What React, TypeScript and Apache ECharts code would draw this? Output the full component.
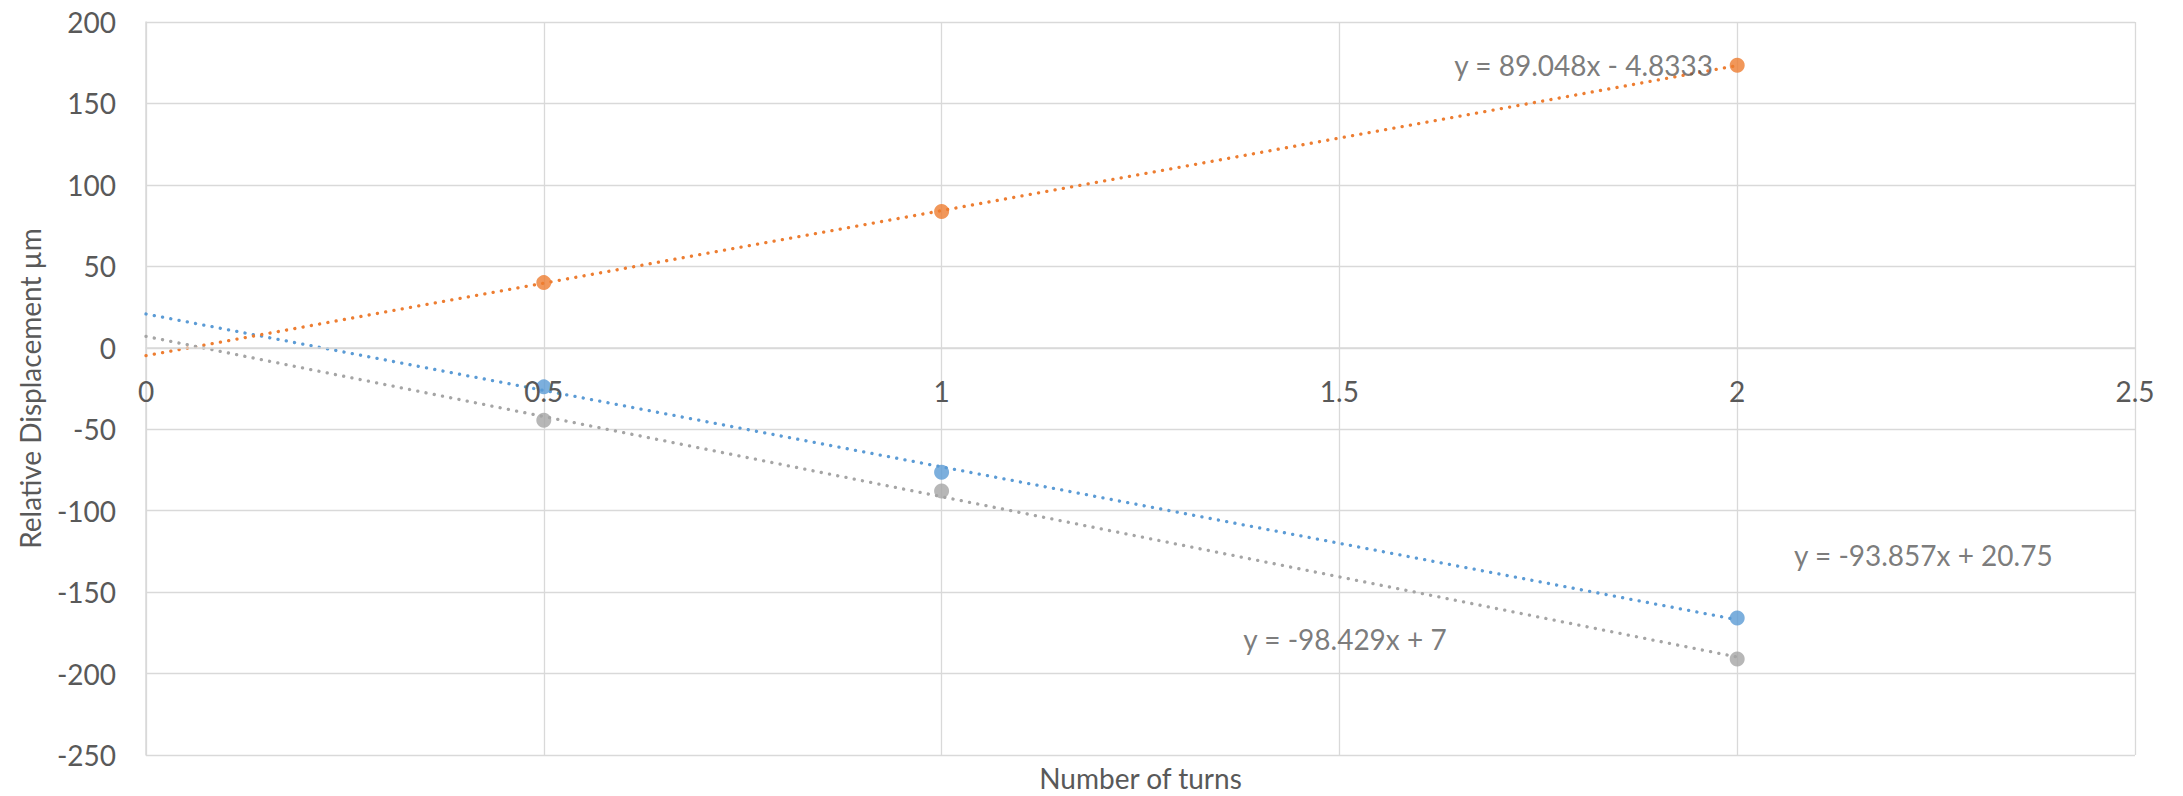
import React, { useEffect, useRef } from "react";
import * as echarts from "echarts";

const xValues = [0.5, 1, 2];
const blueValues = [-24, -76.4, -165.9];
const orangeValues = [40, 83.6, 173.4];
const grayValues = [-44.5, -88, -191];

const trendX = [0, 2];
const blueTrend = [20.75, -166.96];
const orangeTrend = [-4.83, 173.26];
const grayTrend = [7, -189.86];

const equationTexts = ["y = 89.048x - 4.8333", "y = -93.857x + 20.75", "y = -98.429x + 7"];
const equationX = [1.807, 2.234, 1.507];
const equationY = [173.5, -127, -179];

const Y_MIN = -250;
const Y_MAX = 200;

const BLUE = "#5B9BD5";
const ORANGE = "#ED7D31";
const GRAY = "#A5A5A5";
const TEXT = "#595959";
const GRID = "#D9D9D9";
const FONT = "Lato, 'Open Sans', sans-serif";

const W = 2183;
const H = 796;
const GRID_TOP = 22;
const GRID_BOTTOM = 41;

const pairs = (xs: number[], ys: number[]) => xs.map((x, i) => [x, ys[i]]);

export default function App() {
  const ref = useRef<HTMLDivElement>(null);
  useEffect(() => {
    document.body.style.margin = "0";
    const chart = echarts.init(ref.current!, null, { renderer: "svg" });
    const gridHeight = H - GRID_TOP - GRID_BOTTOM;
    const zeroOffset = -(gridHeight * (0 - Y_MIN)) / (Y_MAX - Y_MIN);
    const trendStyle = (color: string) => ({
      color,
      width: 3.3,
      type: [0.1, 8.3],
      cap: "round",
    });
    const trend = (name: string, ys: number[], color: string) => ({
      name,
      type: "line",
      data: pairs(trendX, ys),
      showSymbol: false,
      symbol: "none",
      lineStyle: trendStyle(color),
      silent: true,
      z: 2,
    });
    const pts = (name: string, ys: number[], color: string) => ({
      name,
      type: "scatter",
      data: pairs(xValues, ys),
      symbol: "circle",
      symbolSize: 15,
      itemStyle: { color },
      z: 3,
    });
    chart.setOption({
      animation: false,
      backgroundColor: "#ffffff",
      textStyle: { fontFamily: FONT },
      grid: { left: 146, right: 48, top: GRID_TOP, bottom: GRID_BOTTOM },
      xAxis: [
        {
          type: "value",
          min: 0,
          max: 2.5,
          interval: 0.5,
          axisLine: { show: false },
          axisTick: { show: false },
          axisLabel: { show: false },
          splitLine: { show: true, lineStyle: { color: GRID, width: 1.3 } },
        },
        {
          type: "value",
          position: "bottom",
          offset: zeroOffset,
          z: 5,
          min: 0,
          max: 2.5,
          interval: 0.5,
          axisLine: { show: true, onZero: false, lineStyle: { color: GRID, width: 1.5 } },
          axisTick: { show: false },
          axisLabel: { color: TEXT, fontSize: 28, fontFamily: FONT, margin: 29 },
          splitLine: { show: false },
        },
      ],
      yAxis: {
        type: "value",
        min: Y_MIN,
        max: Y_MAX,
        interval: 50,
        name: "Relative Displacement µm",
        nameLocation: "middle",
        nameGap: 102,
        nameTextStyle: { color: TEXT, fontSize: 28, fontFamily: FONT },
        axisLine: { show: true, onZero: false, lineStyle: { color: GRID, width: 1.5 } },
        axisTick: { show: false },
        axisLabel: { color: TEXT, fontSize: 28, fontFamily: FONT, margin: 30 },
        splitLine: { show: true, lineStyle: { color: GRID, width: 1.3 } },
      },
      graphic: [
        {
          type: "text",
          x: 1140.5,
          y: 778,
          style: {
            text: "Number of turns",
            fill: TEXT,
            font: `28px ${FONT}`,
            textAlign: "center",
            textVerticalAlign: "middle",
          },
        },
      ],
      series: [
        trend("Blue trend", blueTrend, BLUE),
        trend("Orange trend", orangeTrend, ORANGE),
        trend("Gray trend", grayTrend, GRAY),
        pts("Blue", blueValues, BLUE),
        pts("Orange", orangeValues, ORANGE),
        pts("Gray", grayValues, GRAY),
        {
          name: "Equations",
          type: "scatter",
          symbolSize: 0,
          silent: true,
          z: 4,
          data: equationTexts.map((t, i) => ({ value: [equationX[i], equationY[i]], name: t })),
          label: {
            show: true,
            position: "inside",
            formatter: (p: any) => p.name,
            color: TEXT,
            fontSize: 28,
            fontFamily: FONT,
          },
        },
      ],
    });
    return () => chart.dispose();
  }, []);
  return <div ref={ref} style={{ width: W, height: H }} />;
}
